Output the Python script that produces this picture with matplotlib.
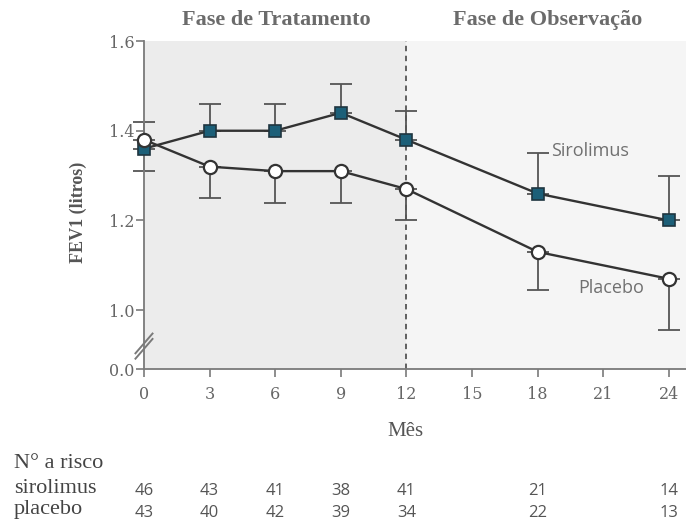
import matplotlib.pyplot as plt

meses = [0, 3, 6, 9, 12, 18, 24]
sirolimus = [1.36, 1.40, 1.40, 1.44, 1.38, 1.26, 1.20]
sirolimus_sup = [1.42, 1.46, 1.46, 1.505, 1.445, 1.35, 1.30]
placebo = [1.38, 1.32, 1.31, 1.31, 1.27, 1.13, 1.07]
placebo_inf = [1.31, 1.25, 1.24, 1.24, 1.20, 1.045, 0.955]

risco_sirolimus = [46, 43, 41, 38, 41, 21, 14]
risco_placebo = [43, 40, 42, 39, 34, 22, 13]

y_ticks = [0.869, 1.0, 1.2, 1.4, 1.6]
y_labels = ['0.0', '1.0', '1.2', '1.4', '1.6']
x_ticks = [0, 3, 6, 9, 12, 15, 18, 21, 24]

serif = 'Liberation Serif'
sans = 'Open Sans'
cinza = '#666666'

fig = plt.figure(figsize=(6.86, 5.27), dpi=100)
ax = fig.add_axes([0.2099, 0.2998, 0.7901, 0.6224])

ymin, ymax = 0.869, 1.6
xmax = 24.78
ax.set_xlim(0, xmax)
ax.set_ylim(ymin, ymax)
ax.set_facecolor('white')

# fundos das fases
ax.axvspan(0, 12, color='#ececec', zorder=0)
ax.axvspan(12, xmax, color='#f5f5f5', zorder=0)
ax.axvline(12, color='#555555', ls=(0, (3, 2.5)), lw=1.3, zorder=1)

# barras de erro (um lado)
for x, y, s in zip(meses, sirolimus, sirolimus_sup):
    ax.errorbar([x], [y], yerr=[[0], [s - y]], fmt='none', ecolor='#555555',
                elinewidth=1.3, capsize=8, capthick=1.3, zorder=2, clip_on=False)
for x, y, s in zip(meses, placebo, placebo_inf):
    ax.errorbar([x], [y], yerr=[[y - s], [0]], fmt='none', ecolor='#555555',
                elinewidth=1.3, capsize=8, capthick=1.3, zorder=2, clip_on=False)

ax.plot(meses, sirolimus, color='#333333', lw=1.7, marker='s', ms=9,
        mfc='#1c5f78', mec='#1f3540', mew=1.2, zorder=4, clip_on=False)
ax.plot(meses, placebo, color='#333333', lw=1.7, marker='o', ms=9.5,
        mfc='white', mec='#333333', mew=1.6, zorder=5, clip_on=False)

ax.text(18.6, 1.355, 'Sirolimus', family=sans, fontsize=13, color='#707070',
        ha='left', va='center')
ax.text(19.85, 1.05, 'Placebo', family=sans, fontsize=13, color='#707070',
        ha='left', va='center')

for lado in ['top', 'right']:
    ax.spines[lado].set_visible(False)
for lado in ['left', 'bottom']:
    ax.spines[lado].set_color('#7a7a7a')
    ax.spines[lado].set_linewidth(1.3)

ax.set_yticks(y_ticks)
ax.set_yticklabels(y_labels, family='DejaVu Serif', fontsize=11.5, color=cinza)
ax.set_xticks(x_ticks)
ax.set_xticklabels([str(v) for v in x_ticks], family='DejaVu Serif', fontsize=11.5,
                   color=cinza)
ax.tick_params(axis='both', colors='#7a7a7a', length=6, width=1.2, labelcolor=cinza)
ax.tick_params(axis='y', pad=1)
ax.tick_params(axis='x', pad=6)

# quebra do eixo y
for dy in [0, 0.012]:
    ax.plot([-0.39, 0.39], [0.892 + dy, 0.936 + dy], color='#7a7a7a', lw=1.4,
            clip_on=False, zorder=6)

fig.text(78 / 686, 1 - 212 / 527, 'FEV1 (litros)', family=serif, fontsize=13,
         fontweight='bold', color='#555555', rotation=90, ha='center', va='center')
fig.text(405 / 686, 1 - 432 / 527, 'Mês', family=serif, fontsize=15,
         color='#555555', ha='center', va='center')

fig.text(276 / 686, 1 - 20 / 527, 'Fase de Tratamento', family=serif, fontsize=16,
         fontweight='bold', color='#6b6b6b', ha='center', va='center')
fig.text(548 / 686, 1 - 20 / 527, 'Fase de Observação', family=serif, fontsize=16,
         fontweight='bold', color='#6b6b6b', ha='center', va='center')

# tabela de pacientes em risco
fig.text(14 / 686, 1 - 468 / 527, 'N° a risco', family=serif, fontsize=16,
         color='#444444', ha='left', va='baseline')
fig.text(14 / 686, 1 - 493 / 527, 'sirolimus', family=serif, fontsize=16,
         color='#444444', ha='left', va='baseline')
fig.text(14 / 686, 1 - 514 / 527, 'placebo', family=serif, fontsize=16,
         color='#444444', ha='left', va='baseline')
for x, s, p in zip(meses, risco_sirolimus, risco_placebo):
    xf = ax.transData.transform((x, 0))[0] / fig.bbox.width
    fig.text(xf, 1 - 491 / 527, str(s), family=sans, fontsize=12, color='#555555',
             ha='center', va='center')
    fig.text(xf, 1 - 513 / 527, str(p), family=sans, fontsize=12, color='#555555',
             ha='center', va='center')

fig.savefig('out.png', dpi=100)
